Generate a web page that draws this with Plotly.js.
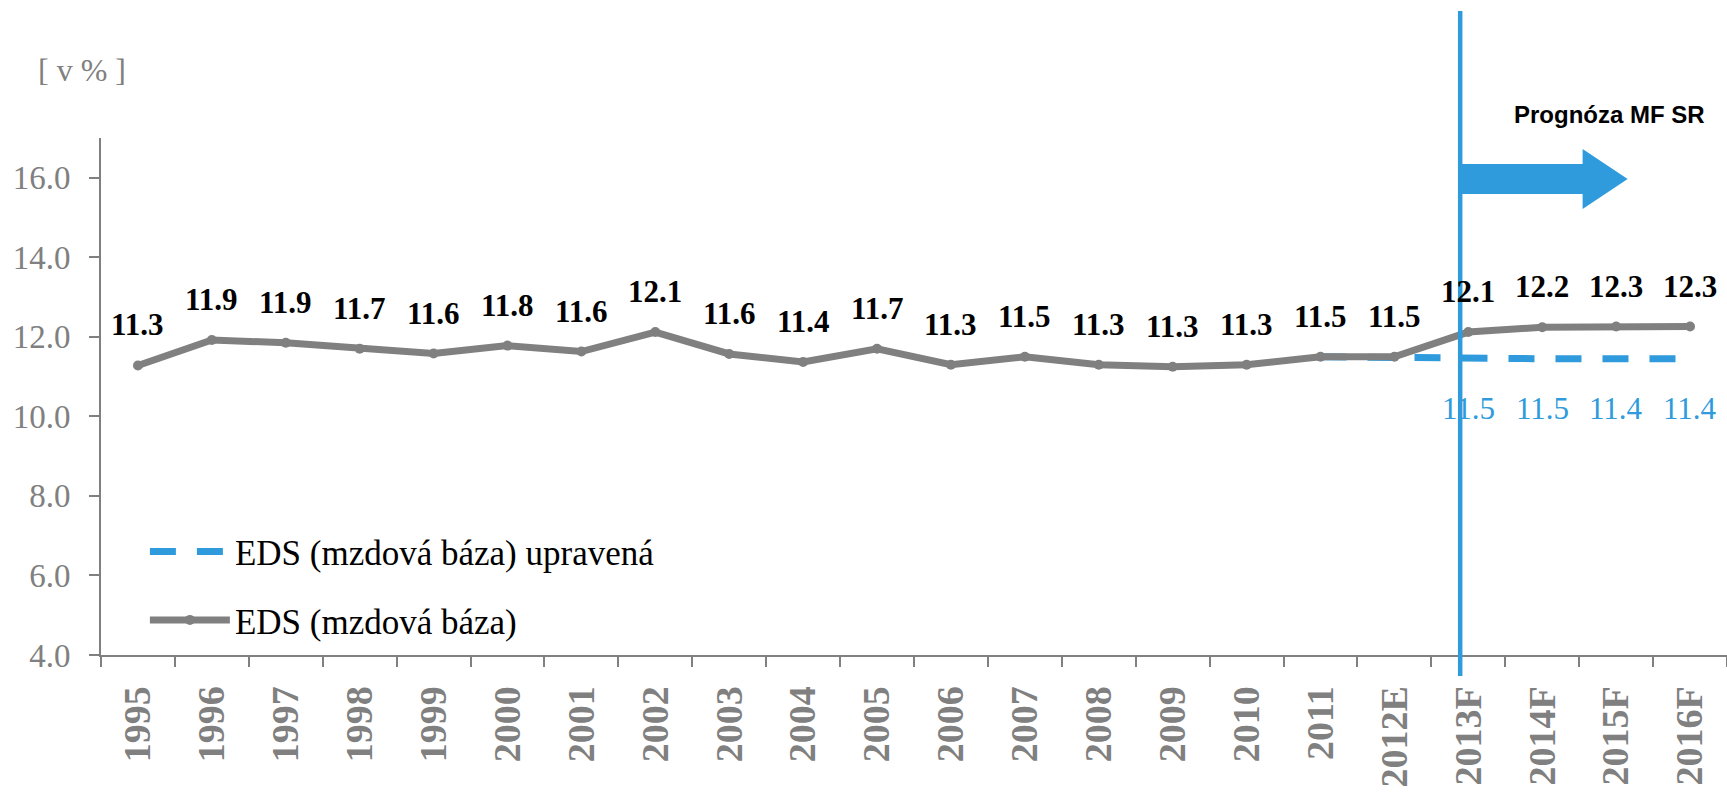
<!DOCTYPE html>
<html><head><meta charset="utf-8">
<script src="https://cdn.plot.ly/plotly-3.0.1.min.js"></script>
<style>html,body{margin:0;padding:0;background:#fff;overflow:hidden;} #chart{width:1727px;height:793px;}</style>
</head><body><div id="chart"></div>
<script>
const categories = ['1995','1996','1997','1998','1999','2000','2001','2002','2003','2004','2005','2006','2007','2008','2009','2010','2011','2012E','2013F','2014F','2015F','2016F'];
const edsValues = [11.28, 11.92, 11.85, 11.70, 11.58, 11.78, 11.63, 12.12, 11.57, 11.37, 11.70, 11.30, 11.50, 11.30, 11.25, 11.30, 11.50, 11.50, 12.12, 12.24, 12.26, 12.26];
const edsLabels = ['11.3','11.9','11.9','11.7','11.6','11.8','11.6','12.1','11.6','11.4','11.7','11.3','11.5','11.3','11.3','11.3','11.5','11.5','12.1','12.2','12.3','12.3'];
const adjCategories = ['2011','2012E','2013F','2014F','2015F','2016F'];
const adjValues = [11.50, 11.47, 11.45, 11.45, 11.45, 11.45];
const adjLabelCategories = ['2013F','2014F','2015F','2016F'];
const adjLabelValues = [11.45, 11.45, 11.45, 11.45];
const adjLabels = ['11.5','11.5','11.4','11.4'];
const seriesNames = ['EDS (mzdová báza) upravená', 'EDS (mzdová báza)'];
const yTickValues = [4, 6, 8, 10, 12, 14, 16];

const GREY = '#808080';
const BLUE = '#2f9bdc';
const SERIF = 'Liberation Serif, Times New Roman, serif';

const traces = [
  {
    x: adjCategories, y: adjValues, name: seriesNames[0], type: 'scatter', mode: 'lines',
    line: {color: BLUE, width: 7, dash: '26px,21px'}, legendgroup: 'a', hoverinfo: 'skip'
  },
  {
    x: categories, y: edsValues, name: seriesNames[1], type: 'scatter', mode: 'lines+markers',
    line: {color: GREY, width: 7}, marker: {color: GREY, size: 10}, legendgroup: 'b', hoverinfo: 'skip'
  }
];

// annotations on a category axis take the category's serial index
const annotations = [];
categories.forEach((c, i) => {
  annotations.push({
    x: categories.indexOf(c), y: edsValues[i], xref: 'x', yref: 'y', text: edsLabels[i], showarrow: false,
    xanchor: 'center', yanchor: 'bottom', yshift: 21,
    font: {family: SERIF, size: 31, color: '#000', weight: 'bold'}
  });
});
adjLabelCategories.forEach((c, i) => {
  annotations.push({
    x: categories.indexOf(c), y: adjLabelValues[i], xref: 'x', yref: 'y', text: adjLabels[i], showarrow: false,
    xanchor: 'center', yanchor: 'top', yshift: -30,
    font: {family: SERIF, size: 31, color: BLUE}
  });
});
annotations.push({
  xref: 'paper', yref: 'paper', x: 0.9278, y: 1.0464, text: 'Prognóza MF SR', showarrow: false,
  xanchor: 'center', yanchor: 'middle',
  font: {family: 'Liberation Sans, Arial, sans-serif', size: 24, color: '#000', weight: 'bold'}
});
annotations.push({
  xref: 'paper', yref: 'paper', x: -0.0117, y: 1.1315, text: '[ v % ]', showarrow: false,
  xanchor: 'center', yanchor: 'middle',
  font: {family: SERIF, size: 32, color: GREY}
});

const shapes = [
  {type: 'line', xref: 'x', yref: 'paper', x0: 17.89, x1: 17.89, y0: -0.0406, y1: 1.2456,
   line: {color: BLUE, width: 4.5}, layer: 'above'},
  {type: 'path', xref: 'paper', yref: 'paper',
   path: 'M0.8370,0.9497 L0.9112,0.9497 L0.9112,0.9787 L0.9389,0.9207 L0.9112,0.8627 L0.9112,0.8917 L0.8370,0.8917 Z',
   fillcolor: BLUE, line: {width: 0}, layer: 'above'}
];

const layout = {
  width: 1727, height: 793,
  margin: {l: 101, r: 0, t: 138, b: 138, pad: 0},
  paper_bgcolor: '#fff', plot_bgcolor: '#fff',
  showlegend: true,
  legend: {
    x: 0.027, y: 0.257, xanchor: 'left', yanchor: 'top',
    font: {family: SERIF, size: 35, color: '#000'},
    bgcolor: 'rgba(0,0,0,0)', itemwidth: 80, tracegroupgap: 20, traceorder: 'grouped'
  },
  xaxis: {
    type: 'category', categoryorder: 'array', categoryarray: categories,
    range: [-0.5, 21.5], fixedrange: true,
    showline: true, linecolor: GREY, linewidth: 2,
    ticks: 'outside', ticklen: 10, tickwidth: 2, tickcolor: GREY, tickson: 'boundaries',
    tickangle: -90, automargin: false, showgrid: false, zeroline: false,
    tickfont: {family: SERIF, size: 38, color: GREY, weight: 'bold'},
    ticklabelstandoff: 14
  },
  yaxis: {
    range: [4, 17], fixedrange: true, tickvals: yTickValues, tickformat: '.1f',
    showline: true, linecolor: GREY, linewidth: 2,
    ticks: 'outside', ticklen: 10, tickwidth: 2, tickcolor: GREY,
    automargin: false, showgrid: false, zeroline: false,
    tickfont: {family: SERIF, size: 33, color: GREY},
    ticklabelstandoff: 12
  },
  annotations: annotations,
  shapes: shapes
};

Plotly.newPlot('chart', traces, layout, {staticPlot: true, displayModeBar: false});
</script>
</body></html>
